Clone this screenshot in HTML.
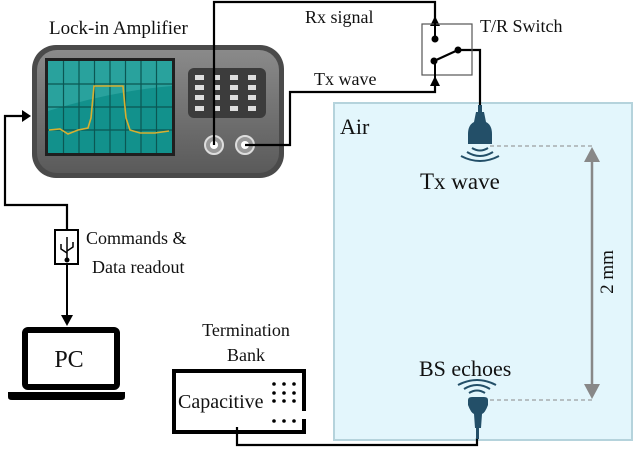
<!DOCTYPE html>
<html><head><style>body{margin:0;background:#fff}svg{display:block}text{font-family:"Liberation Serif",serif;fill:#111}</style></head>
<body>
<svg width="640" height="451" viewBox="0 0 640 451" xmlns="http://www.w3.org/2000/svg">
<defs>
<linearGradient id="bd" x1="0" y1="0" x2="0" y2="1"><stop offset="0" stop-color="#8a8a8a"/><stop offset="1" stop-color="#5a5a5a"/></linearGradient>
</defs>
<rect x="334" y="103" width="298" height="337" fill="#e3f6fc" stroke="#b5d3dc" stroke-width="2"/>
<text x="340" y="134" font-size="22">Air</text>
<rect x="32" y="45" width="252" height="133" rx="24" fill="#4a4a4a"/>
<rect x="37" y="50" width="242" height="123" rx="20" fill="url(#bd)"/>
<rect x="45" y="58" width="130" height="98" fill="#1f1f1f"/>
<rect x="48" y="61" width="124" height="92" fill="#12918c"/>
<path d="M48,61h124v25q-60,5-124,25z" fill="#3fb3ad" opacity="0.5"/>
<g stroke="#0b5753" stroke-width="1.2">
<line x1="63.5" y1="61" x2="63.5" y2="153"/><line x1="79" y1="61" x2="79" y2="153"/><line x1="94.5" y1="61" x2="94.5" y2="153"/><line x1="110" y1="61" x2="110" y2="153"/><line x1="125.5" y1="61" x2="125.5" y2="153"/><line x1="141" y1="61" x2="141" y2="153"/><line x1="156.5" y1="61" x2="156.5" y2="153"/>
<line x1="48" y1="84" x2="172" y2="84"/><line x1="48" y1="107" x2="172" y2="107"/><line x1="48" y1="130" x2="172" y2="130"/>
</g>
<path d="M49,130 L60,129 L68,134 L78,130 L88,128 L91,118 L94,86 L123,86 L126,118 L130,130 L140,133 L155,133 L169,131" fill="none" stroke="#d8b030" stroke-width="1.6"/>
<rect x="188" y="68" width="78" height="50" rx="6" fill="#3c3c3c"/>
<g fill="#ddd"><rect x="195" y="75" width="9" height="5"/><rect x="213" y="75" width="7" height="5"/><rect x="230" y="75" width="8" height="5"/><rect x="248" y="75" width="8" height="5"/>
<rect x="195" y="85" width="9" height="5"/><rect x="213" y="85" width="7" height="5"/><rect x="230" y="85" width="8" height="5"/><rect x="248" y="85" width="8" height="5"/>
<rect x="195" y="95" width="9" height="5"/><rect x="213" y="95" width="7" height="5"/><rect x="230" y="95" width="8" height="5"/><rect x="248" y="95" width="8" height="5"/>
<rect x="195" y="106" width="9" height="5"/><rect x="213" y="106" width="7" height="5"/><rect x="230" y="106" width="8" height="5"/><rect x="248" y="106" width="8" height="5"/></g>
<circle cx="214" cy="145" r="9" fill="#999" stroke="#ddd" stroke-width="2"/><circle cx="214" cy="145" r="4" fill="#fff"/>
<circle cx="245" cy="145" r="9" fill="#999" stroke="#ddd" stroke-width="2"/><circle cx="245" cy="145" r="4" fill="#fff"/>
<text x="49" y="34" font-size="19">Lock-in Amplifier</text>
<g fill="none" stroke="#000" stroke-width="2.2">
<polyline points="214,145 214,2 435,2 435,20"/>
<polyline points="245,145 290,145 290,92 435,92 435,80"/>
<polyline points="458,50 480,50 480,106"/>
<polyline points="477,438 477,445 237,445 237,427"/>
</g>
<path d="M430,26 L435,16 L440,26z" fill="#000"/>
<path d="M430,86 L435,76 L440,86z" fill="#000"/>
<rect x="422" y="24" width="50" height="51" fill="none" stroke="#555" stroke-width="1.2"/>
<line x1="435" y1="16" x2="435" y2="37" stroke="#000" stroke-width="2"/>
<line x1="435" y1="62" x2="435" y2="80" stroke="#000" stroke-width="2"/>
<circle cx="435" cy="39" r="3.5" fill="#000"/><circle cx="434" cy="61" r="3.5" fill="#000"/><circle cx="458" cy="50" r="3.5" fill="#000"/>
<line x1="434" y1="61" x2="458" y2="50" stroke="#000" stroke-width="2.2"/>
<text x="305" y="23" font-size="18">Rx signal</text>
<text x="314" y="85" font-size="18">Tx wave</text>
<text x="480" y="32" font-size="18">T/R Switch</text>
<g fill="#234f68">
<rect x="478" y="105" width="4" height="8"/>
<path d="M476,112 h8 l2,10 q6,3 6,12 v10 h-24 v-10 q0,-9 6,-12z"/>
</g>
<g fill="none" stroke="#234f68" stroke-width="2">
<path d="M472,148 q8,5 16,0"/><path d="M467,152 q13,8 26,0"/><path d="M461,156 q19,10 38,0"/>
</g>
<line x1="490" y1="146" x2="592" y2="146" stroke="#888" stroke-dasharray="4,3" stroke-width="1"/>
<line x1="592" y1="155" x2="592" y2="391" stroke="#888" stroke-width="2.5"/>
<path d="M584,162 L592,147 L600,162z" fill="#888"/>
<path d="M584,384 L592,399 L600,384z" fill="#888"/>
<line x1="490" y1="400" x2="592" y2="400" stroke="#888" stroke-dasharray="4,3" stroke-width="1"/>
<text x="420" y="189" font-size="23">Tx wave</text>
<text transform="translate(603,272) rotate(-90)" x="0" y="10" font-size="19" text-anchor="middle">2 mm</text>
<text x="419" y="376" font-size="22">BS echoes</text>
<g fill="none" stroke="#234f68" stroke-width="2">
<path d="M469,393 q8,-5 16,0"/><path d="M464,389 q13,-8 26,0"/><path d="M458,385 q19,-10 38,0"/>
</g>
<g fill="#234f68">
<path d="M468,405 v-5 q0,-3 4,-3 h12 q4,0 4,3 v5 q-3,8 -6,9 l-1,14 h-6 l-1,-14 q-3,-1 -6,-9z"/>
<rect x="476" y="428" width="3" height="11"/>
</g>
<text x="246" y="336" font-size="18" text-anchor="middle">Termination</text>
<text x="246" y="361" font-size="18" text-anchor="middle">Bank</text>
<path d="M304,411 V371 H174 V432 H304 V419" fill="none" stroke="#000" stroke-width="4"/>
<text x="178" y="408" font-size="20">Capacitive</text>
<g fill="#000">
<circle cx="274" cy="384" r="1.8"/><circle cx="284" cy="384" r="1.8"/><circle cx="294" cy="384" r="1.8"/>
<circle cx="274" cy="393" r="1.8"/><circle cx="284" cy="393" r="1.8"/><circle cx="294" cy="393" r="1.8"/>
<circle cx="274" cy="401" r="1.8"/><circle cx="284" cy="401" r="1.8"/><circle cx="294" cy="401" r="1.8"/>
<circle cx="274" cy="421" r="1.8"/><circle cx="284" cy="421" r="1.8"/><circle cx="294" cy="421" r="1.8"/>
</g>
<polyline points="67,230 67,205 5,205 5,116 25,116" fill="none" stroke="#000" stroke-width="2.2"/>
<path d="M22,110 L31,116 L22,122z" fill="#000"/>
<line x1="67" y1="264" x2="67" y2="318" stroke="#000" stroke-width="2"/>
<path d="M61,315 L67,326 L73,315z" fill="#000"/>
<rect x="55" y="230" width="23" height="34" fill="#fff" stroke="#000" stroke-width="2"/>
<g stroke="#000" stroke-width="1.5" fill="none"><line x1="67" y1="237" x2="67" y2="260"/><path d="M61,244 v5 l6,4"/><path d="M73,242 v5 l-6,4"/></g>
<circle cx="67" cy="260" r="2.5" fill="#000"/>
<text x="86" y="244" font-size="18">Commands &amp;</text>
<text x="92" y="273" font-size="18">Data readout</text>
<rect x="25" y="330" width="92" height="57" rx="3" fill="none" stroke="#000" stroke-width="6"/>
<path d="M8,392 H125 V397 Q125,400 121,400 H12 Q8,400 8,397z" fill="#000"/>
<text x="69" y="367" font-size="24" text-anchor="middle">PC</text>
</svg>
</body></html>
